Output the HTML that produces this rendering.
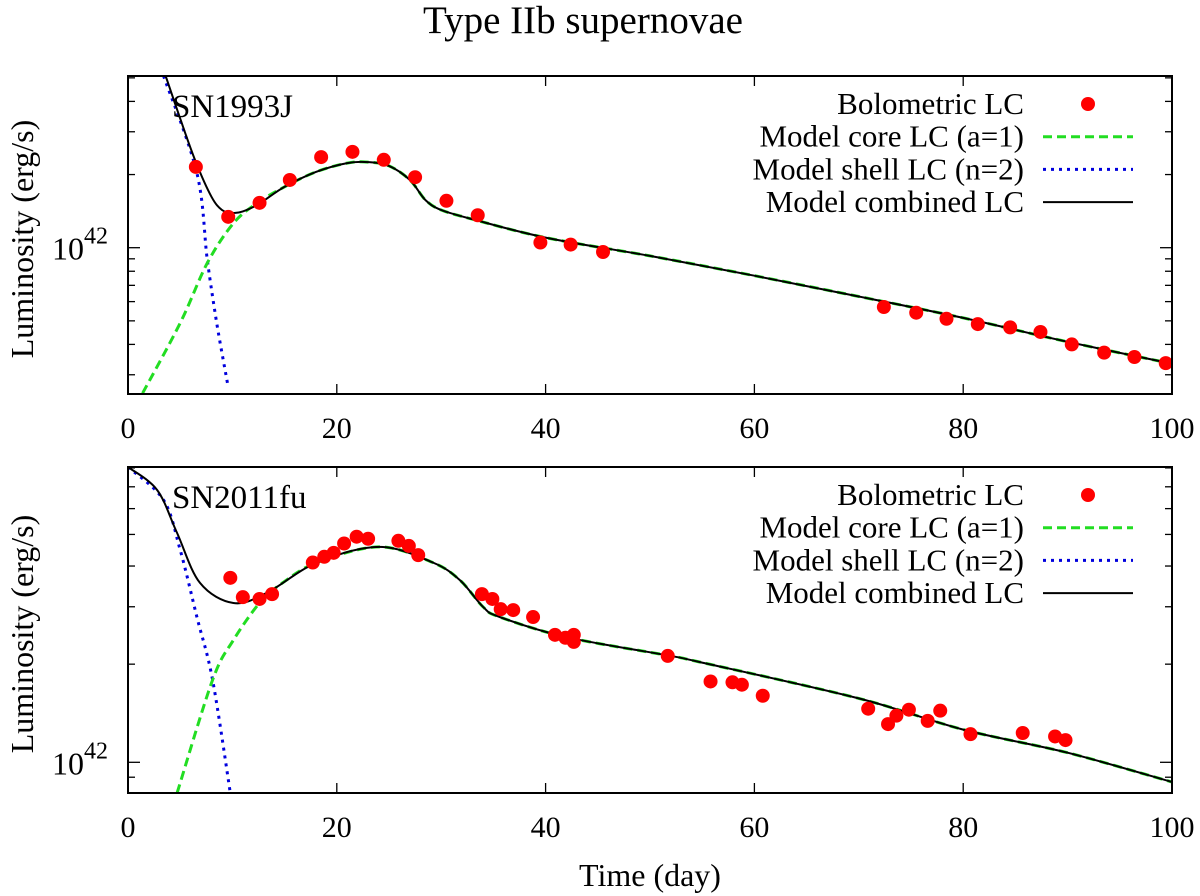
<!DOCTYPE html>
<html><head><meta charset="utf-8"><style>
html,body{margin:0;padding:0;background:#fff;}
svg{display:block;font-family:"Liberation Serif",serif;}
</style></head><body>
<svg id="chart" width="1200" height="896" viewBox="0 0 1200 896" xmlns="http://www.w3.org/2000/svg">
<text x="583" y="33" font-size="39" text-anchor="middle">Type IIb supernovae</text>
<g id="top"></g>
<g id="bot"></g>
<text x="650" y="886" font-size="32" text-anchor="middle">Time (day)</text>
</svg>
<script>
// x ticks
const xTicks = [0, 20, 40, 60, 80, 100];
const xTickLabels = ["0", "20", "40", "60", "80", "100"];
// SN1993J data (day, L/1e42)
const topObsDays = [6.5,9.6,12.6,15.5,18.5,21.5,24.5,27.5,30.5,33.5,39.5,42.4,45.5,72.4,75.5,78.4,81.4,84.5,87.4,90.4,93.5,96.4,99.4];
const topObsL = [2.15,1.34,1.53,1.90,2.36,2.48,2.30,1.95,1.56,1.36,1.05,1.03,0.96,0.57,0.54,0.51,0.485,0.47,0.45,0.40,0.37,0.355,0.335];
const topCombDays = [3.6,5,6.5,8,9,10,11,12.5,15,18,21,23,25,27,28.5,30,33,40,50,60,70,80,90,100];
const topCombL = [5.1,3.4,2.25,1.62,1.43,1.39,1.41,1.51,1.78,2.05,2.23,2.25,2.17,1.90,1.57,1.43,1.31,1.1,0.925,0.767,0.63,0.514,0.41,0.333];
const topCoreDays = [1.4,5.0,7.6,10.1,12.4,15,18,21,23,25,27,28.5,30,33,40,50,60,70,80,90,100];
const topCoreL = [0.252,0.49,0.865,1.26,1.53,1.78,2.05,2.23,2.25,2.17,1.90,1.57,1.43,1.31,1.1,0.925,0.767,0.63,0.514,0.41,0.333];
const topShellDays = [3.4,6.6,7.6,8.5,9.6];
const topShellL = [5.1,2.03,0.89,0.49,0.267];
// SN2011fu data
const botObsDays = [9.8,11.0,12.6,13.8,17.7,18.8,19.7,20.7,21.9,23.0,25.9,26.9,27.8,33.9,34.9,35.7,36.9,38.8,40.9,41.9,42.7,42.7,51.7,55.8,57.9,58.8,60.8,70.9,72.8,73.6,74.8,76.6,77.8,80.7,85.7,88.8,89.8];
const botObsL = [3.68,3.21,3.17,3.28,4.10,4.27,4.39,4.69,4.92,4.85,4.78,4.61,4.32,3.28,3.17,2.95,2.93,2.79,2.46,2.41,2.46,2.34,2.12,1.77,1.76,1.73,1.60,1.46,1.31,1.39,1.45,1.34,1.44,1.22,1.23,1.20,1.17];
const botCombDays = [0,2.8,4.7,6.9,10.1,13.3,18.1,24.1,29.2,31.8,34.0,35.6,42.0,51.6,54.8,70,80,90,100];
const botCombL = [8.05,6.84,5.05,3.55,3.08,3.31,4.10,4.58,4.10,3.62,3.0,2.79,2.42,2.13,2.03,1.57,1.26,1.07,0.87];
const botCoreDays = [4.7,8.1,10.1,12.6,14.8,18.1,24.1,29.2,31.8,34.0,35.6,42.0,51.6,54.8,70,80,90,100];
const botCoreL = [0.805,1.79,2.37,3.08,3.55,4.10,4.58,4.10,3.62,3.0,2.79,2.42,2.13,2.03,1.57,1.26,1.07,0.87];
const botShellDays = [0,3.4,5.0,6.6,8.1,9.8];
const botShellL = [8.05,6.38,4.48,2.79,1.79,0.805];

const NS = "http://www.w3.org/2000/svg";
function mk(tag, attrs, parent){const e=document.createElementNS(NS,tag);for(const k in attrs)e.setAttribute(k,attrs[k]);parent.appendChild(e);return e;}
const X0=128, X1=1172;
const xS = d => X0 + (X1-X0)*d/100;
function smoothPath(pts){
  let d="M"+pts[0][0].toFixed(1)+","+pts[0][1].toFixed(1);
  for(let i=0;i<pts.length-1;i++){
    const p0=pts[i-1]||pts[i], p1=pts[i], p2=pts[i+1], p3=pts[i+2]||p2;
    const c1=[p1[0]+(p2[0]-p0[0])/6, p1[1]+(p2[1]-p0[1])/6];
    const c2=[p2[0]-(p3[0]-p1[0])/6, p2[1]-(p3[1]-p1[1])/6];
    d+=` C${c1[0].toFixed(1)},${c1[1].toFixed(1)} ${c2[0].toFixed(1)},${c2[1].toFixed(1)} ${p2[0].toFixed(1)},${p2[1].toFixed(1)}`;
  }
  return d;
}

function panel(g, cfg){
  const yS = L => cfg.y42 - cfg.k*Math.log10(L);
  const clipId = cfg.id+"clip";
  const defs = mk("defs",{},g);
  const cp = mk("clipPath",{id:clipId},defs);
  mk("rect",{x:X0,y:cfg.top,width:X1-X0,height:cfg.bot-cfg.top},cp);
  const yt = mk("g",{},g);
  
  
  cfg.yTicks.forEach(v=>{
    const y=yS(v); if(y<cfg.top-0.5||y>cfg.bot+0.5) return;
    const len = (v===1||v===10||v===0.1)?12:7;
    mk("line",{x1:X0,x2:X0+len,y1:y,y2:y,stroke:"#000","stroke-width":1.3},yt);
    mk("line",{x1:X1,x2:X1-len,y1:y,y2:y,stroke:"#000","stroke-width":1.3},yt);
  });
  const yl = mk("text",{x:108,y:yS(1)+12,"font-size":32,"text-anchor":"end"},g);
  
  
  yl.textContent="10";
  const sup = mk("tspan",{dy:-16,"font-size":24},yl); sup.textContent="42";
  xTicks.forEach((t,i)=>{
    const x=xS(t);
    mk("line",{x1:x,x2:x,y1:cfg.bot,y2:cfg.bot-10,stroke:"#000","stroke-width":1.3},g);
    mk("line",{x1:x,x2:x,y1:cfg.top,y2:cfg.top+10,stroke:"#000","stroke-width":1.3},g);
    const tl = mk("text",{x:x,y:cfg.bot+44,"font-size":30,"text-anchor":"middle"},g);
    
    
    tl.textContent=xTickLabels[i];
  });
  const yt2 = mk("text",{x:0,y:0,"font-size":32,"text-anchor":"middle",transform:`translate(33,${(cfg.top+cfg.bot)/2+4}) rotate(-90)`},g);
  
  
  yt2.textContent="Luminosity (erg/s)";
  const series = mk("g",{"clip-path":`url(#${clipId})`},g);
  function line(days, L, style, name){
    const pts = days.map((d,i)=>[xS(d), yS(L[i])]);
    const p = mk("path",Object.assign({fill:"none",d:smoothPath(pts)},style),series);
    
    
  }
  line(cfg.shellD,cfg.shellL,{stroke:"#0000dd","stroke-width":3,"stroke-dasharray":"3 5"},"shell-model-line");
  line(cfg.coreD,cfg.coreL,{stroke:"#22dd22","stroke-width":3,"stroke-dasharray":"9 5"},"core-model-line");
  line(cfg.combD,cfg.combL,{stroke:"#000","stroke-width":2,"stroke-linejoin":"round"},"combined-model-line");
  cfg.obsD.forEach((d,i)=>{
    const c = mk("circle",{cx:xS(d),cy:yS(cfg.obsL[i]),r:7,fill:"#ff0000"},series);
    
    
  });
  mk("rect",{x:X0,y:cfg.top,width:X1-X0,height:cfg.bot-cfg.top,fill:"none",stroke:"#000","stroke-width":2},g);
  const lbl = mk("text",{x:172,y:cfg.top+41,"font-size":33},g);
  
  
  lbl.textContent=cfg.name;
  const lg = mk("g",{},g);
  
  
  const labels=["Bolometric LC","Model core LC (a=1)","Model shell LC (n=2)","Model combined LC"];
  labels.forEach((s,i)=>{
    const y=cfg.top+28+i*32.7;
    const t=mk("text",{x:1024,y:y+10,"font-size":31,"text-anchor":"end"},lg);
    
    
    t.textContent=s;
    if(i===0) mk("circle",{cx:1088,cy:y,r:7,fill:"#ff0000"},lg);
    if(i===1) mk("line",{x1:1043,x2:1133,y1:y,y2:y,stroke:"#22dd22","stroke-width":3,"stroke-dasharray":"9 5"},lg);
    if(i===2) mk("line",{x1:1043,x2:1133,y1:y,y2:y,stroke:"#0000dd","stroke-width":3,"stroke-dasharray":"3 5"},lg);
    if(i===3) mk("line",{x1:1043,x2:1133,y1:y,y2:y,stroke:"#000","stroke-width":2},lg);
  });
}
const yTicksAll=[0.2,0.3,0.4,0.5,0.6,0.7,0.8,0.9,1,2,3,4,5,6,7,8,9,10];
panel(document.getElementById("top"),{id:"t",top:76,bot:394,y42:247.7,k:243,yTicks:yTicksAll,name:"SN1993J",
  obsD:topObsDays,obsL:topObsL,combD:topCombDays,combL:topCombL,coreD:topCoreDays,coreL:topCoreL,shellD:topShellDays,shellL:topShellL});
panel(document.getElementById("bot"),{id:"b",top:467,bot:793,y42:762.3,k:326,yTicks:yTicksAll,name:"SN2011fu",
  obsD:botObsDays,obsL:botObsL,combD:botCombDays,combL:botCombL,coreD:botCoreDays,coreL:botCoreL,shellD:botShellDays,shellL:botShellL});
</script>
</body></html>
